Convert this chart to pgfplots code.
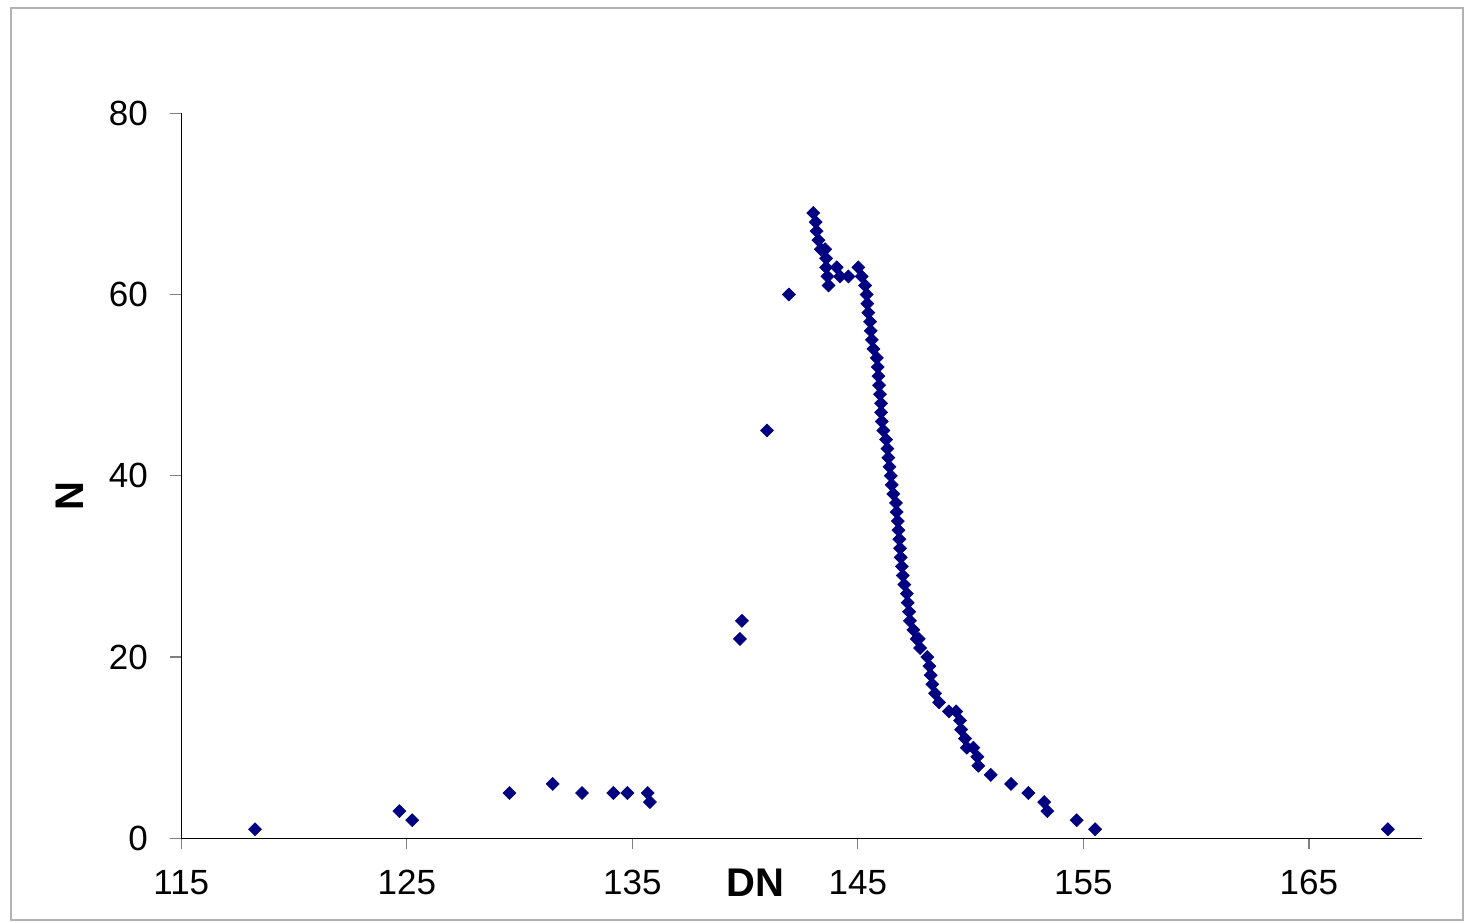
\documentclass[border=0pt]{standalone}
\usepackage{pgfplots}
\pgfplotsset{compat=1.18}
\usepackage{fontspec}
\setmainfont{Liberation Sans}
\definecolor{navy}{RGB}{0,0,128}
\begin{document}
\begin{tikzpicture}
\begin{axis}[
  at={(0,0)}, anchor=south west,
  scale only axis,
  width=620.2pt, height=362.5pt,
  xmin=115, xmax=170, ymin=0, ymax=80,
  xtick={115,125,135,145,155,165},
  ytick={0,20,40,60,80},
  axis x line=bottom, axis y line=left,
  axis line style={-, black, line width=0.6pt},
  tick style={gray, line width=0.6pt},
  tick align=outside,
  major tick length=5.5pt,
  /pgf/number format/assume math mode=true,
  tick label style={font=\fontsize{17.5}{20}\selectfont},
  yticklabel style={anchor=east, inner sep=0pt, xshift=-11pt},
  xticklabel style={anchor=north, inner sep=0pt, yshift=-10.3pt},
  xlabel={\textbf{DN}},
  ylabel={\textbf{N}},
  label style={font=\fontsize{20}{22}\selectfont},
  xlabel style={at={(axis description cs:0.4628,-0.061)}, anchor=center, inner sep=0pt},
  ylabel style={at={(axis description cs:-0.0901,0.4714)}, anchor=center, inner sep=0pt, rotate=0},
  clip=false,
]
\addplot[only marks, mark=square*, mark size=2.3pt, color=navy, mark options={fill=navy, draw=navy, rotate=45, line width=0.3pt}] table {
x y
118.27 1
124.67 3
125.24 2
129.55 5
131.47 6
132.77 5
134.16 5
134.78 5
135.68 5
135.78 4
139.77 22
139.86 24
140.97 45
141.94 60
143.02 69
143.13 68
143.17 67
143.25 66
143.36 65
143.55 65
143.59 64
143.59 63
143.65 62
143.70 61
144.06 63
144.21 62
144.58 62
145.02 63
145.17 62
145.32 61
145.39 60
145.42 59
145.46 58
145.54 57
145.57 56
145.62 55
145.69 54
145.84 53
145.88 52
145.91 51
145.94 50
145.98 49
146.03 48
146.03 47
146.06 46
146.13 45
146.25 44
146.31 43
146.35 42
146.40 41
146.46 40
146.50 39
146.57 38
146.69 37
146.72 36
146.77 35
146.80 34
146.84 33
146.87 32
146.90 31
146.95 30
146.99 29
147.06 28
147.17 27
147.21 26
147.27 25
147.31 24
147.46 23
147.61 22
147.70 22
147.76 21
148.08 20
148.17 19
148.23 18
148.30 17
148.42 16
148.60 15
149.04 14
149.36 14
149.53 13
149.58 12
149.75 11
149.83 10
150.12 10
150.30 9
150.34 8
150.89 7
151.79 6
152.56 5
153.26 4
153.40 3
154.70 2
155.52 1
168.50 1
};
\end{axis}
\draw[gray!60, line width=0.8pt] (-85.15pt,-40.85pt) rectangle (640.85pt,415.15pt);
\pgfresetboundingbox
\useasboundingbox (-90.65pt,-41.85pt) rectangle (641.85pt,419.15pt);
\end{tikzpicture}
\end{document}
